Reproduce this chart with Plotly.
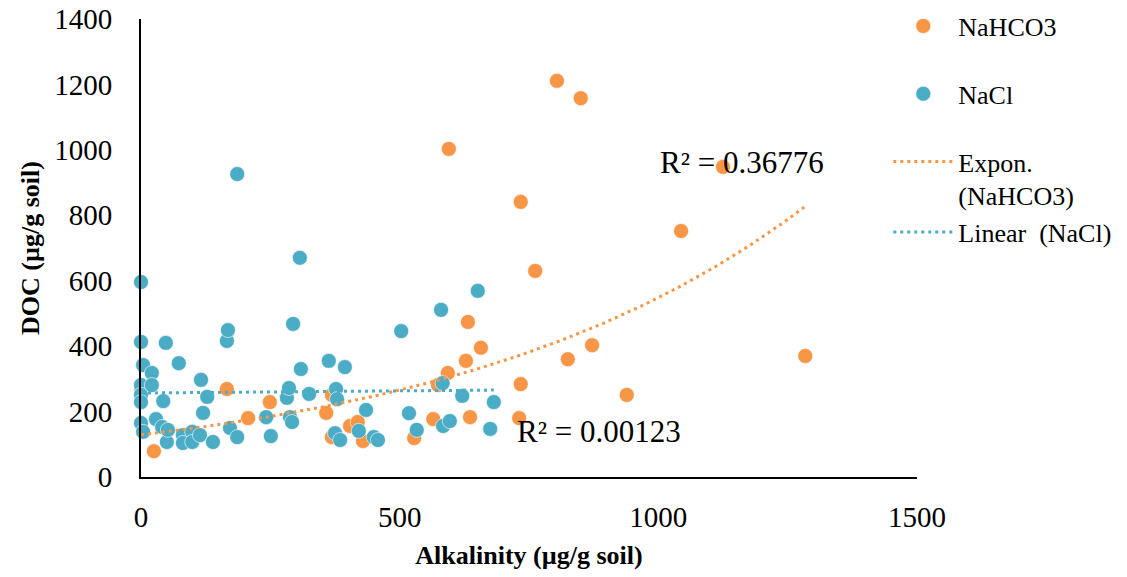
import numpy as np
import plotly.graph_objects as go

# --- data ---
nahco3_x = [0, 25, 166, 207, 249, 358, 369, 369, 404, 419, 429, 528, 565, 574, 593, 595,
            628, 632, 636, 657, 731, 734, 734, 762, 804, 825, 850, 872, 939, 1044, 1125, 1284]
nahco3_y = [269, 79, 269, 180, 229, 196, 251, 122, 156, 168, 110, 119, 177, 281, 318, 1003,
            355, 474, 183, 395, 180, 284, 841, 630, 1211, 360, 1158, 403, 251, 752, 948, 370]

nacl_x = [0, 0, 4, 0, 0, 0, 0, 4, 21, 21, 29, 41, 43, 48, 50, 52, 73, 81, 81, 99, 99, 114,
          116, 120, 128, 139, 166, 168, 172, 186, 186, 242, 251, 282, 286, 288, 292, 294, 307,
          309, 325, 363, 375, 377, 379, 385, 394, 421, 435, 450, 458, 503, 518, 533, 580, 583,
          584, 597, 621, 651, 675, 682]
nacl_y = [596, 413, 342, 281, 251, 229, 165, 138, 318, 281, 177, 153, 232, 410, 107, 144, 348,
          128, 104, 138, 107, 128, 297, 196, 245, 107, 416, 449, 150, 122, 926, 183, 125, 242,
          272, 183, 168, 468, 670, 330, 254, 355, 134, 269, 238, 113, 336, 141, 205, 122, 113,
          446, 195, 144, 511, 287, 156, 171, 248, 569, 147, 229]

x_ticks = [0, 500, 1000, 1500]
y_ticks = [0, 200, 400, 600, 800, 1000, 1200, 1400]
r2_nahco3 = "R² = 0.36776"
r2_nacl = "R² = 0.00123"

ORANGE = "#F79646"
BLUE = "#4BACC6"
FONT = "Liberation Serif, Times New Roman, serif"

# --- trend lines fitted from the data (Excel-style) ---
nx = np.array(nahco3_x, float); ny = np.array(nahco3_y, float)
b_exp, ln_a = np.polyfit(nx, np.log(ny), 1)
ex = np.linspace(nx.min(), nx.max(), 200)
ey = np.exp(ln_a) * np.exp(b_exp * ex)

cx = np.array(nacl_x, float); cy = np.array(nacl_y, float)
slope, intercept = np.polyfit(cx, cy, 1)
lx = np.array([cx.min(), cx.max()])
ly = intercept + slope * lx

fig = go.Figure()
fig.add_trace(go.Scatter(x=nahco3_x, y=nahco3_y, mode="markers", name="NaHCO3",
                         marker=dict(color=ORANGE, size=15, line=dict(color="white", width=0.6)),
                         cliponaxis=False, legendgroup="a"))
fig.add_trace(go.Scatter(x=nacl_x, y=nacl_y, mode="markers", name="NaCl",
                         marker=dict(color=BLUE, size=15, line=dict(color="white", width=0.6)),
                         cliponaxis=False, legendgroup="b"))
fig.add_trace(go.Scatter(x=ex, y=ey, mode="lines", name="Expon.<br>(NaHCO3)",
                         line=dict(color=ORANGE, width=3, dash="3px,4px"), legendgroup="c"))
fig.add_trace(go.Scatter(x=lx, y=ly, mode="lines", name="Linear\u00a0 (NaCl)",
                         line=dict(color=BLUE, width=3, dash="3px,4px"), legendgroup="c"))

fig.add_annotation(x=1162, y=960, xref="x", yref="y", text=r2_nahco3, showarrow=False,
                   font=dict(family=FONT, size=31, color="black"))
fig.add_annotation(x=885, y=138, xref="x", yref="y", text=r2_nacl, showarrow=False,
                   font=dict(family=FONT, size=31, color="black"))

axis_common = dict(showline=True, linecolor="black", linewidth=2, showgrid=False,
                   zeroline=False, ticks="", automargin=False, ticklabeloverflow="allow",
                   tickfont=dict(family=FONT, size=29, color="black"))
fig.update_xaxes(range=[0, 1500], tickvals=x_ticks, ticklabelstandoff=13,
                 title=dict(text="Alkalinity (µg/g soil)", standoff=14,
                            font=dict(family=FONT, size=26, color="black", weight="bold")),
                 **axis_common)
fig.update_yaxes(range=[0, 1400], tickvals=y_ticks, ticklabelstandoff=21,
                 title=dict(text="DOC (µg/g soil)", standoff=7,
                            font=dict(family=FONT, size=26, color="black", weight="bold")),
                 **axis_common)

fig.update_layout(
    width=1127, height=577, autosize=False,
    margin=dict(l=141, r=210, t=19, b=100, autoexpand=False),
    plot_bgcolor="white", paper_bgcolor="white",
    hovermode=False,
    legend=dict(x=0.963, xanchor="left", y=1.036, yanchor="top", valign="top",
                itemwidth=60,
                font=dict(family=FONT, size=26, color="black"), tracegroupgap=31,
                bgcolor="rgba(0,0,0,0)"),
)

# remove the default 8px page margin so the figure fills the window exactly
fig.write_html("out.html", config={"displayModeBar": False},
               post_script="document.body.style.margin='0';")
